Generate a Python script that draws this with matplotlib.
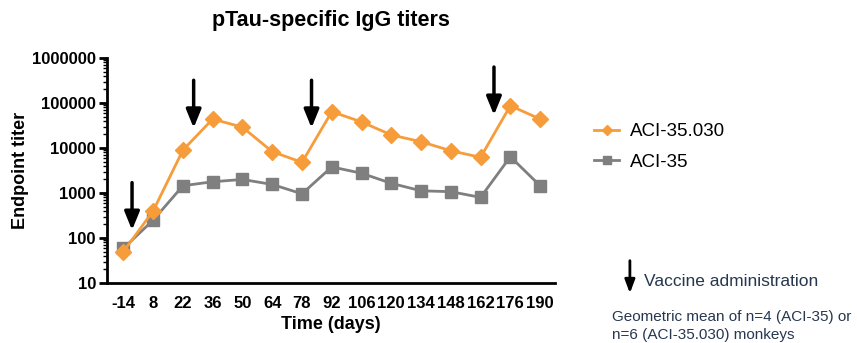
import matplotlib
matplotlib.use('Agg')
from matplotlib import pyplot as plt
from matplotlib.ticker import LogLocator, NullFormatter
import numpy as np

plt.rcParams['font.family'] = ['Liberation Sans', 'DejaVu Sans']

# data
days = ['-14', '8', '22', '36', '50', '64', '78', '92', '106', '120', '134', '148', '162', '176', '190']
aci35_030 = [50, 400, 9000, 44000, 29000, 8300, 4800, 64000, 38000, 19500, 13800, 8700, 6200, 87000, 44000]
aci35 = [59, 250, 1450, 1780, 2000, 1550, 960, 3800, 2750, 1640, 1120, 1070, 800, 6400, 1450]

# vaccine arrows: position on category axis, top and bottom titer
arrow_x = [0.29, 2.36, 6.32, 12.45]
arrow_top = [1700, 320000, 320000, 630000]
arrow_bottom = [150, 28000, 28000, 54000]

orange = '#F79C3A'
grey = '#7F7F7F'
navy = '#26374F'

fig = plt.figure(figsize=(8.57, 3.43), dpi=100)
ax = fig.add_axes([0.1249, 0.1749, 0.5227, 0.656])

x = np.arange(len(days))
ax.plot(x, aci35, color=grey, marker='s', markersize=8.5, linewidth=2, label='ACI-35', zorder=3)
ax.plot(x, aci35_030, color=orange, marker='D', markersize=8.5, linewidth=2, label='ACI-35.030', zorder=4)

for xa, yt, yb in zip(arrow_x, arrow_top, arrow_bottom):
    ax.annotate('', xy=(xa, yb), xytext=(xa, yt),
                arrowprops=dict(arrowstyle='-|>,head_width=0.45,head_length=1.1', color='black', lw=2.5,
                                shrinkA=0, shrinkB=0))

ax.set_yscale('log')
ax.set_ylim(10, 1000000)
ax.set_xlim(-0.55, 14.5)
ax.set_yticks([10, 100, 1000, 10000, 100000, 1000000])
ax.set_yticklabels(['10', '100', '1000', '10000', '100000', '1000000'])
ax.yaxis.set_minor_locator(LogLocator(base=10, subs=np.arange(2, 10), numticks=20))
ax.yaxis.set_minor_formatter(NullFormatter())
ax.set_xticks(x)
ax.set_xticklabels(days)

for s in ['top', 'right']:
    ax.spines[s].set_visible(False)
for s in ['left', 'bottom']:
    ax.spines[s].set_linewidth(2)

ax.tick_params(axis='y', which='major', length=6, width=2, labelsize=12, pad=2)
ax.tick_params(axis='y', which='minor', length=3, width=1)
ax.tick_params(axis='x', length=0, labelsize=12, pad=9)
for lab in ax.get_xticklabels() + ax.get_yticklabels():
    lab.set_fontweight('bold')

ax.set_title('pTau-specific IgG titers', fontsize=15.5, fontweight='bold', pad=23)
ax.set_xlabel('Time (days)', fontsize=13, fontweight='bold', labelpad=4)
ax.set_ylabel('Endpoint titer', fontsize=13, fontweight='bold', labelpad=2)

handles, labels = ax.get_legend_handles_labels()
fig.legend(handles[::-1], labels[::-1], loc='upper left', bbox_to_anchor=(0.674, 0.69),
           frameon=False, fontsize=13.5, handlelength=1.3, handletextpad=0.6,
           labelspacing=0.7, markerscale=0.6)

ax.annotate('', xy=(0.735, 0.145), xytext=(0.735, 0.24), xycoords='figure fraction',
            textcoords='figure fraction', annotation_clip=False,
            arrowprops=dict(arrowstyle='-|>,head_width=0.3,head_length=0.8', color='black', lw=2,
                            shrinkA=0, shrinkB=0))
fig.text(0.751, 0.178, 'Vaccine administration', fontsize=12.5, color=navy, va='center')
fig.text(0.714, 0.05, 'Geometric mean of n=4 (ACI-35) or\nn=6 (ACI-35.030) monkeys',
         fontsize=11, color=navy, va='center', linespacing=1.35)

fig.savefig('out.png', dpi=100)
